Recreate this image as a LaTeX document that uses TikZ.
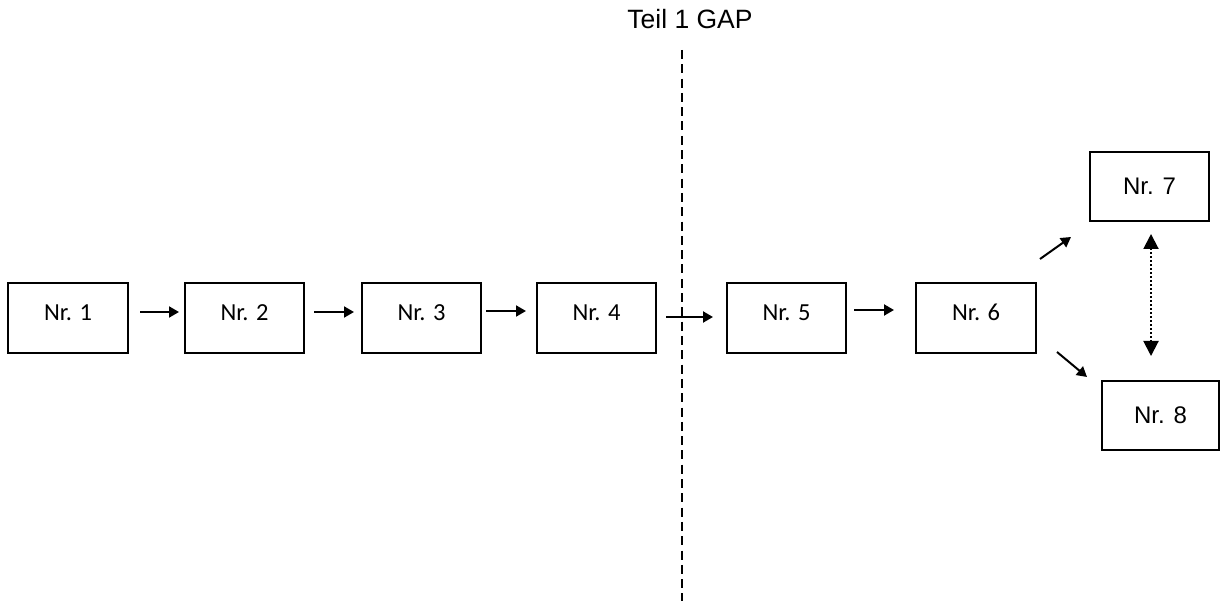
\documentclass[tikz,border=0pt]{standalone}
\usepackage{fontspec}
\setmainfont{Carlito}
\newfontfamily\arialf{Liberation Sans}
\usetikzlibrary{arrows.meta}
\tikzset{
  box/.style={draw, line width=2pt, minimum width=119pt, minimum height=70pt, inner sep=0pt,
    font=\fontsize{24.5}{28}\selectfont, text height=17pt, text depth=13pt},
  boxa/.style={draw, line width=2pt, minimum width=119pt, minimum height=69pt, inner sep=0pt,
    font=\arialf\fontsize{24}{28}\selectfont},
  arr/.style={line width=2pt, -{Triangle[length=10pt,width=11pt]}},
  darr/.style={line width=2pt, dash pattern=on 2pt off 2pt, {Triangle[length=15pt,width=15pt]}-{Triangle[length=15pt,width=15pt]}},
}
\begin{document}
\begin{tikzpicture}[x=1pt,y=-1pt]
\useasboundingbox (0,0) rectangle (1220,601);
\node[box, minimum width=120pt] (b1) at (68,318) {Nr. 1};
\node[box] (b2) at (244.5,318) {Nr. 2};
\node[box] (b3) at (421.5,318) {Nr. 3};
\node[box] (b4) at (596.5,318) {Nr. 4};
\node[box] (b5) at (786.5,318) {Nr. 5};
\node[box, minimum width=120pt] (b6) at (976,318) {Nr. 6};
\node[boxa] (b7) at (1149.5,186.5) {Nr. 7};
\node[boxa, minimum width=117pt] (b8) at (1160.5,415.5) {Nr. 8};
\node[font=\arialf\fontsize{26.5}{30}\selectfont] (title) at (690,19) {Teil 1 GAP};
\coordinate (gtop) at (682,50);
\coordinate (gbot) at (682,601);
\draw[line width=2pt, dash pattern=on 9pt off 5.3pt] (gtop) -- (gbot);
\draw[arr] ([shift={(11,-6)}]b1.east) -- ([shift={(-5,-6)}]b2.west);
\draw[arr] ([shift={(9,-6)}]b2.east) -- ([shift={(-7,-6)}]b3.west);
\draw[arr] ([shift={(4,-7)}]b3.east) -- ([shift={(-10,-7)}]b4.west);
\draw[arr] ([shift={(9,-1)}]b4.east) -- ([shift={(-13,-1)}]b5.west);
\draw[arr] ([shift={(7,-8)}]b5.east) -- ([shift={(-21,-8)}]b6.west);
\draw[arr] ([shift={(3,-23)}]b6.north east) -- ([shift={(-18,15)}]b7.south west);
\draw[arr] ([shift={(20,-2)}]b6.south east) -- ([shift={(-14,-3)}]b8.north west);
\draw[darr] ([shift={(1.5,12)}]b7.south) -- ([shift={(-9.5,-24)}]b8.north);
\end{tikzpicture}
\end{document}
